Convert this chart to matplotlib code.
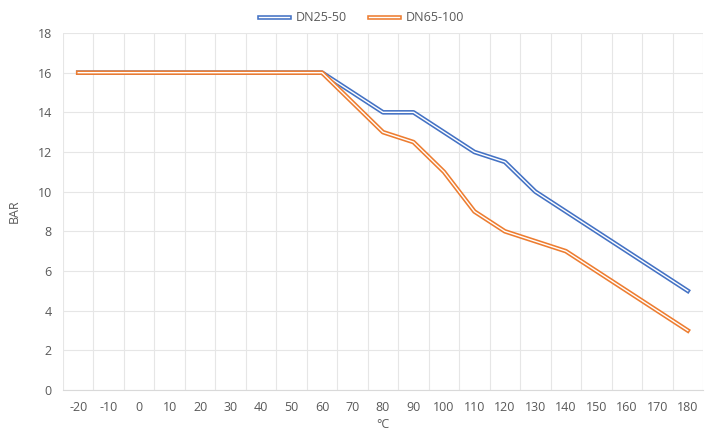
import numpy as np
import matplotlib
matplotlib.use("Agg")
import matplotlib.pyplot as plt
import matplotlib.patheffects as pe

temps = ["-20", "-10", "0", "10", "20", "30", "40", "50", "60", "70",
         "80", "90", "100", "110", "120", "130", "140", "150", "160", "170", "180"]
dn25_50 = [16, 16, 16, 16, 16, 16, 16, 16, 16, 15, 14, 14, 13, 12, 11.5, 10, 9, 8, 7, 6, 5]
dn65_100 = [16, 16, 16, 16, 16, 16, 16, 16, 16, 14.5, 13, 12.5, 11, 9, 8, 7.5, 7, 6, 5, 4, 3]

plt.rcParams['font.family'] = ['Open Sans', 'DejaVu Sans']

fig = plt.figure(figsize=(7.09, 4.32), dpi=100)
ax = fig.add_axes([63 / 709, 1 - 390 / 432, 640 / 709, 357 / 432])

x = np.arange(len(temps))
for vals, col, lab in [(dn25_50, "#4472C4", "DN25-50"), (dn65_100, "#ED7D31", "DN65-100")]:
    ax.plot(x, vals, color="white", lw=1.0, label=lab, zorder=3,
            path_effects=[pe.Stroke(linewidth=3.3, foreground=col), pe.Normal()])

ax.set_xlim(-0.5, len(temps) - 0.5)
ax.set_ylim(0, 18)
ax.set_yticks(range(0, 19, 2))
ax.set_xticks(x)
ax.set_xticklabels(temps)
ax.set_xticks(np.arange(-0.5, len(temps), 1), minor=True)
ax.grid(True, which="minor", axis="x", color="#E6E6E6", lw=0.8)
ax.grid(True, which="major", axis="y", color="#E6E6E6", lw=0.8)
ax.set_axisbelow(True)
for s in ["top", "right", "left"]:
    ax.spines[s].set_visible(False)
ax.spines["bottom"].set_color("#D9D9D9")
ax.tick_params(which="both", length=0, labelsize=9, colors="#595959", pad=8)

ax.set_xlabel("°C", fontsize=9, color="#595959", labelpad=3)
ax.set_ylabel("BAR", fontsize=9, color="#595959", labelpad=12)

fig.legend(loc="upper center", bbox_to_anchor=(0.51, 1.0), ncol=2, frameon=False,
           fontsize=9, labelcolor="#595959", handlelength=2.4, handletextpad=0.5,
           columnspacing=1.8)

fig.savefig("out.png", dpi=100)
